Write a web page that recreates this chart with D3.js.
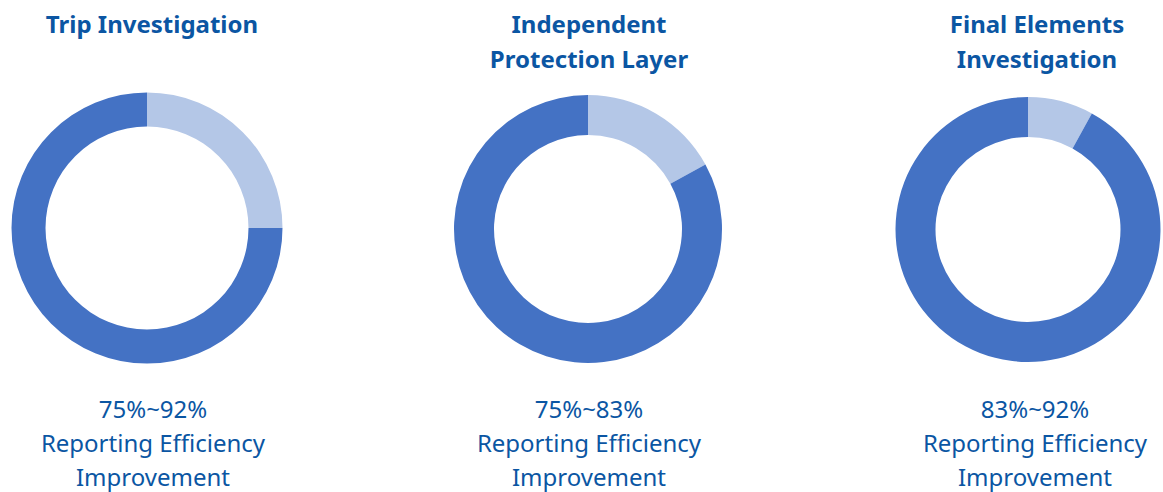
<!DOCTYPE html>
<html>
<head>
<meta charset="utf-8">
<script src="https://cdn.jsdelivr.net/npm/d3@7"></script>
<style>
  html, body { margin: 0; padding: 0; background: #fff; }
  svg { display: block; font-family: "Noto Sans", "Open Sans", sans-serif; }
</style>
</head>
<body>
<div id="chart"></div>
<script>
// Panel titles (two lines where the reference wraps)
const titles = [
    ['Trip Investigation'],
    ['Independent', 'Protection Layer'],
    ['Final Elements', 'Investigation']
];
// Share of the ring in the dark colour (percent)
const achieved = [75, 83, 92];
// Caption lines under each ring
const ranges = ['75%~92%', '75%~83%', '83%~92%'];
const captionLines = ['Reporting Efficiency', 'Improvement'];

// Colors
const dark_color = '#4472C4';
const light_color = '#B4C7E7';
const text_color = '#0B56A3';

const width = 1163;
const height = 492;

// Per-panel layout: ring centre, radii, text centre
const layout = [
    { cx: 147, cy: 228, r: 135.5, ir: 101.5, tx: 152, bx: 153 },
    { cx: 588, cy: 229, r: 134, ir: 94, tx: 589, bx: 589 },
    { cx: 1028, cy: 229.5, r: 132.5, ir: 92.5, tx: 1037, bx: 1035 }
];

const svg = d3.select('#chart').append('svg')
    .attr('width', width)
    .attr('height', height);

const pie = d3.pie().sort(null).value(d => d);

achieved.forEach((value, i) => {
    const L = layout[i];
    const g = svg.append('g');

    // Ring: light remainder first (starts at 12 o'clock), dark after it
    const arc = d3.arc().innerRadius(L.ir).outerRadius(L.r);
    const slices = pie([100 - value, value]);
    g.append('g')
        .attr('transform', `translate(${L.cx}, ${L.cy})`)
        .selectAll('path')
        .data(slices)
        .enter().append('path')
        .attr('d', arc)
        .attr('fill', (d, j) => j === 0 ? light_color : dark_color);

    // Title
    g.selectAll('.title')
        .data(titles[i])
        .enter().append('text')
        .attr('class', 'title')
        .attr('x', L.tx)
        .attr('y', (d, j) => 32.5 + j * 35)
        .attr('text-anchor', 'middle')
        .attr('fill', text_color)
        .style('font-size', '24px')
        .style('font-weight', 'bold')
        .text(d => d);

    // Caption under the ring
    g.selectAll('.caption')
        .data([ranges[i]].concat(captionLines))
        .enter().append('text')
        .attr('class', 'caption')
        .attr('x', L.bx)
        .attr('y', (d, j) => 417.5 + j * 34)
        .attr('text-anchor', 'middle')
        .attr('fill', text_color)
        .style('font-size', '24px')
        .text(d => d);
});
</script>
</body>
</html>
